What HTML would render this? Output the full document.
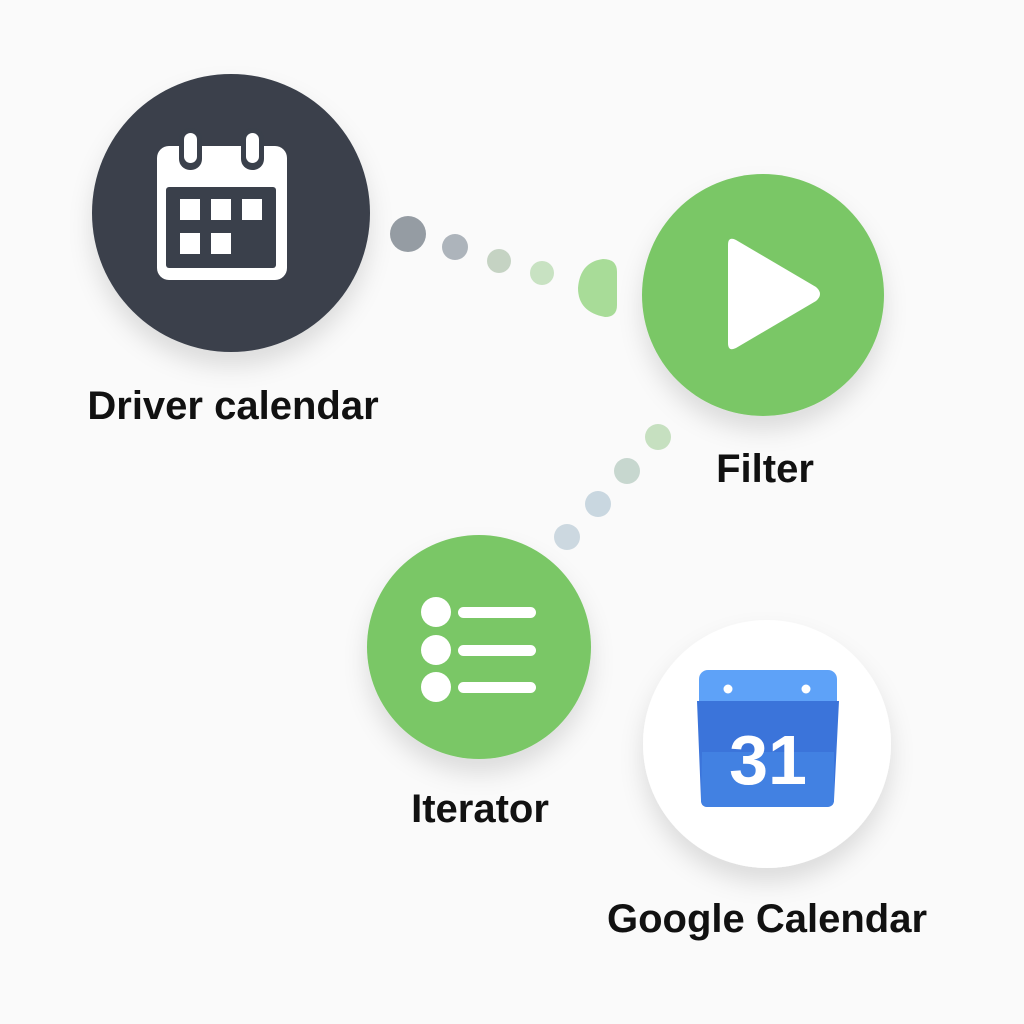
<!DOCTYPE html>
<html><head><meta charset="utf-8"><style>
html,body{margin:0;padding:0;background:#fafafa;}
svg{display:block}
text{font-family:"Liberation Sans",sans-serif;font-weight:bold;fill:#111;}
</style></head><body>
<svg width="1024" height="1024" viewBox="0 0 1024 1024">
<defs>
<filter id="sh" x="-30%" y="-30%" width="160%" height="170%">
<feDropShadow dx="0" dy="14" stdDeviation="12" flood-color="#000" flood-opacity="0.12"/>
</filter>
</defs>
<rect width="1024" height="1024" fill="#fafafa"/>
<circle cx="408" cy="234" r="18" fill="#959ca3"/>
<circle cx="455" cy="247" r="13" fill="#adb4bb"/>
<circle cx="499" cy="261" r="12" fill="#c5d3c3"/>
<circle cx="542" cy="273" r="12" fill="#c8e2c2"/>
<path d="M603 259 Q617 259 617 272 L617 305 Q617 317 605 317 Q578 312 578 288 Q580 262 603 259Z" fill="#a8dc98"/>
<circle cx="658" cy="437" r="13" fill="#c6e0c0"/>
<circle cx="627" cy="471" r="13" fill="#c7d7cf"/>
<circle cx="598" cy="504" r="13" fill="#c9d7e0"/>
<circle cx="567" cy="537" r="13" fill="#ccd8e0"/>
<circle cx="231" cy="213" r="139" fill="#3a404b" filter="url(#sh)"/>
<rect x="157" y="146" width="130" height="134" rx="12" fill="#fff"/>
<rect x="166" y="187" width="110" height="81" rx="3" fill="#3a404b"/>
<rect x="180" y="199" width="20" height="21" fill="#fff"/>
<rect x="211" y="199" width="20" height="21" fill="#fff"/>
<rect x="242" y="199" width="20" height="21" fill="#fff"/>
<rect x="180" y="233" width="20" height="21" fill="#fff"/>
<rect x="211" y="233" width="20" height="21" fill="#fff"/>
<rect x="179" y="128" width="23" height="42" rx="11" fill="#3a404b"/>
<rect x="241" y="128" width="23" height="42" rx="11" fill="#3a404b"/>
<rect x="184" y="133" width="13" height="30" rx="6.5" fill="#fff"/>
<rect x="246" y="133" width="13" height="30" rx="6.5" fill="#fff"/>
<text x="233" y="419" font-size="40" text-anchor="middle">Driver calendar</text>
<circle cx="763" cy="295" r="121" fill="#7ac766" filter="url(#sh)"/>
<path d="M736 240 L816 287 Q824 294 816 301 L736 348 Q728 352 728 343 L728 245 Q728 236 736 240Z" fill="#fff"/>
<text x="765" y="482" font-size="40" text-anchor="middle">Filter</text>
<circle cx="479" cy="647" r="112" fill="#7ac766" filter="url(#sh)"/>
<circle cx="436" cy="612" r="15" fill="#fff"/>
<circle cx="436" cy="650" r="15" fill="#fff"/>
<circle cx="436" cy="687" r="15" fill="#fff"/>
<rect x="458" y="607" width="78" height="11" rx="5.5" fill="#fff"/>
<rect x="458" y="645" width="78" height="11" rx="5.5" fill="#fff"/>
<rect x="458" y="682" width="78" height="11" rx="5.5" fill="#fff"/>
<text x="480" y="822" font-size="40" text-anchor="middle">Iterator</text>
<circle cx="767" cy="744" r="124" fill="#fff" filter="url(#sh)"/>
<rect x="699" y="670" width="138" height="50" rx="9" fill="#5ea2f8"/>
<circle cx="728" cy="689" r="4.5" fill="#fff"/>
<circle cx="806" cy="689" r="4.5" fill="#fff"/>
<path d="M697 701 L839 701 L834 800 Q834 807 826 807 L708 807 Q701 807 701 800Z" fill="#3b74da"/>
<path d="M702 752 L834 752 L834 800 Q834 807 826 807 L708 807 Q701 807 701 800Z" fill="#4281e2"/>
<text x="768" y="784" font-size="70" text-anchor="middle" style="fill:#fff">31</text>
<text x="767" y="932" font-size="40" text-anchor="middle">Google Calendar</text>
</svg>
</body></html>
